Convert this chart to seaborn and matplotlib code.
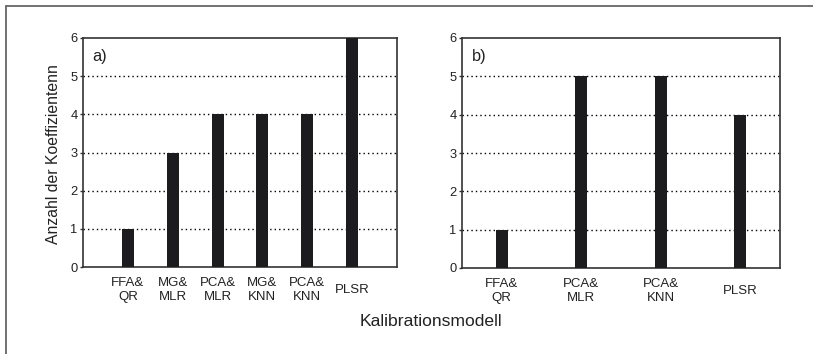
import matplotlib
matplotlib.use("Agg")
import matplotlib.pyplot as plt
import seaborn as sns
import pandas as pd
from matplotlib.lines import Line2D

# ---- data ----
models_a = ["FFA&\nQR", "MG&\nMLR", "PCA&\nMLR", "MG&\nKNN", "PCA&\nKNN", "PLSR"]
coeffs_a = [1, 3, 4, 4, 4, 6]
models_b = ["FFA&\nQR", "PCA&\nMLR", "PCA&\nKNN", "PLSR"]
coeffs_b = [1, 5, 5, 4]
yticks = [0, 1, 2, 3, 4, 5, 6]
panel_labels = ["a)", "b)"]
ylabel = "Anzahl der Koeffizientenn"
xlabel = "Kalibrationsmodell"

sns.set_theme(style="white")
plt.rcParams["font.family"] = ["Liberation Sans", "DejaVu Sans"]

fig = plt.figure(figsize=(8.13, 3.54), dpi=100)
W, H = 813, 354

def add_ax(l, r, t, b):
    return fig.add_axes([l / W, 1 - b / H, (r - l) / W, (b - t) / H])

ax_a = add_ax(83, 397, 38, 267)
ax_b = add_ax(462, 780, 38, 268)

bar_color = "#1c1c1e"
text_color = "#222222"

for ax, models, vals, width, xlim, lab in [
    (ax_a, models_a, coeffs_a, 0.27, (-1.0, 6.0), panel_labels[0]),
    (ax_b, models_b, coeffs_b, 0.155, (-0.5, 3.5), panel_labels[1]),
]:
    df = pd.DataFrame({"model": models, "n": vals})
    sns.barplot(data=df, x="model", y="n", order=models, color=bar_color,
                width=width, saturation=1, linewidth=0, ax=ax, zorder=3)
    ax.set_xlim(*xlim)
    ax.set_ylim(0, 6)
    ax.set_yticks(yticks)
    for y in yticks[1:-1]:
        ax.axhline(y, color="black", lw=1.0, ls=(0, (1, 2.2)), zorder=1)
    ax.set_xlabel("")
    ax.set_ylabel("")
    for s in ax.spines.values():
        s.set_color("#333333")
        s.set_linewidth(1.2)
        s.set_visible(True)
    ax.tick_params(axis="y", length=2, width=1, color="#333333", pad=2,
                   labelsize=9.3, labelcolor=text_color, left=True)
    ax.tick_params(axis="x", length=0, pad=16.5, labelsize=9.5, labelcolor=text_color)
    for t in ax.get_xticklabels():
        t.set_va("center")
        t.set_linespacing(1.15)
    ax.text(0.03, 0.92, lab, transform=ax.transAxes, fontsize=11.8,
            color=text_color, ha="left", va="center")

fig.text(54 / W, 1 - 154 / H, ylabel, rotation=90, ha="center", va="center",
         fontsize=11.3, color=text_color)
fig.text(431 / W, 1 - 322 / H, xlabel, ha="center", va="center",
         fontsize=12.6, color=text_color)

# outer frame (top and left edges visible)
fig.add_artist(Line2D([5.5 / W, 5.5 / W], [0, 1 - 5.5 / H], transform=fig.transFigure,
                      color="#666666", lw=1.3))
fig.add_artist(Line2D([5.5 / W, 1], [1 - 5.5 / H, 1 - 5.5 / H], transform=fig.transFigure,
                      color="#666666", lw=1.3))

fig.savefig("out.png", dpi=100)
